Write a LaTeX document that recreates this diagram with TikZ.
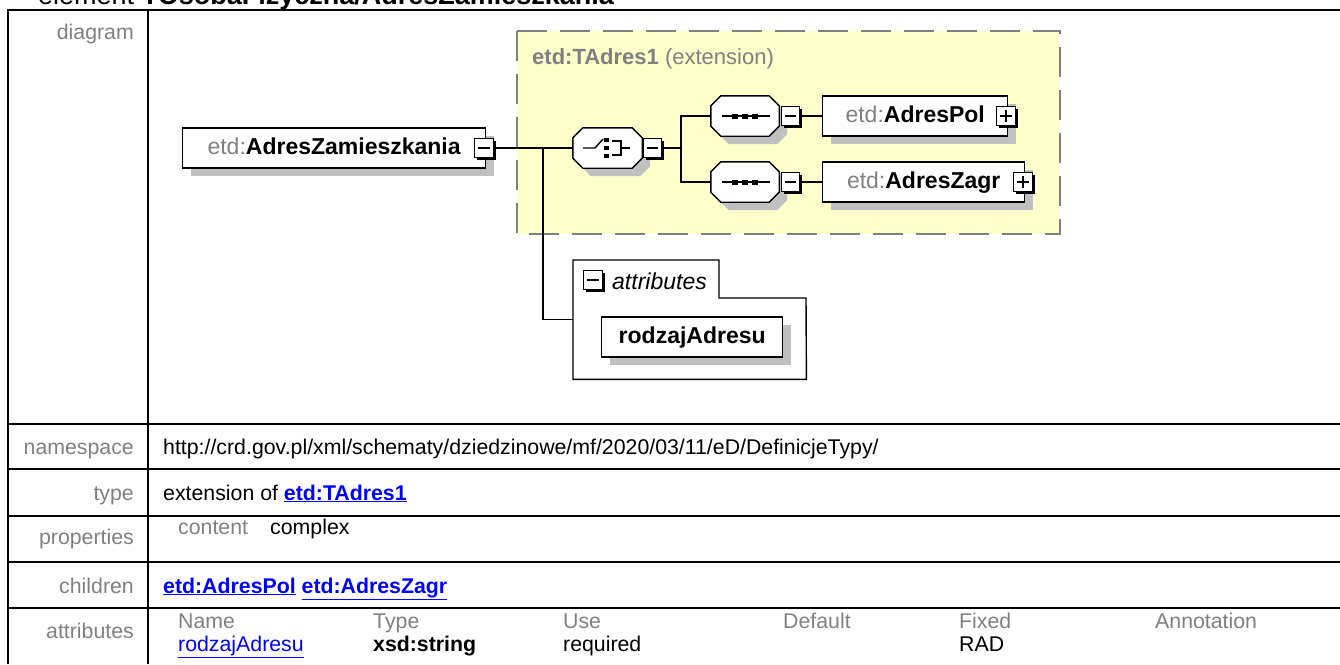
\documentclass[tikz,border=0pt]{standalone}
\usepackage{fontspec}
\setmainfont{Liberation Sans}
\usetikzlibrary{calc}
\definecolor{lblgray}{HTML}{808080}
\definecolor{yelfill}{HTML}{FFFFCC}
\definecolor{shgray}{HTML}{C0C0C0}
\definecolor{linkblue}{HTML}{0000FF}
\newcommand{\diafont}{\fontsize{23}{27}\selectfont}
\newcommand{\tabfont}{\fontsize{21.3}{25}\selectfont}
\newcommand{\pfx}[1]{\textcolor{lblgray}{#1}}
\newcommand{\lnk}[1]{\textcolor{linkblue}{\underline{#1}}}
\newcommand{\drawocto}[1]{%
  \fill[shgray, transform canvas={shift={(8pt,-8pt)}}] ([xshift=10pt]#1.north west) -- ([xshift=-10pt]#1.north east) -- ([yshift=-10pt]#1.north east) -- ([yshift=10pt]#1.south east) -- ([xshift=-10pt]#1.south east) -- ([xshift=10pt]#1.south west) -- ([yshift=10pt]#1.south west) -- ([yshift=-10pt]#1.north west) -- cycle;
  \draw[line width=1.4pt, fill=white] ([xshift=10pt]#1.north west) -- ([xshift=-10pt]#1.north east) -- ([yshift=-10pt]#1.north east) -- ([yshift=10pt]#1.south east) -- ([xshift=-10pt]#1.south east) -- ([xshift=10pt]#1.south west) -- ([yshift=10pt]#1.south west) -- ([yshift=-10pt]#1.north west) -- cycle;}
\begin{document}
\begin{tikzpicture}[x=1pt,y=-1pt,
  tline/.style={line width=2pt, black},
  conn/.style={line width=1.4pt, black},
  elem/.style={draw=black, line width=1.4pt, fill=white, minimum height=40pt, inner sep=0pt, text height=16.5pt, text depth=4.5pt, font=\diafont, preaction={fill=shgray, transform canvas={shift={(8pt,-8pt)}}}},
  ph/.style={inner sep=0pt, minimum height=40pt},
  pmbox/.style={draw=black, line width=1.4pt, fill=white, minimum size=18.5pt, inner sep=0pt, preaction={fill=black, transform canvas={shift={(2.5pt,-2.5pt)}}}},
  minusbox/.style={pmbox, path picture={\draw[line width=1.3pt] ([xshift=3.5pt]path picture bounding box.west) -- ([xshift=-3.5pt]path picture bounding box.east);}},
  plusbox/.style={pmbox, path picture={\draw[line width=1.3pt] ([xshift=3.5pt]path picture bounding box.west) -- ([xshift=-3.5pt]path picture bounding box.east) ([yshift=-3.5pt]path picture bounding box.north) -- ([yshift=3.5pt]path picture bounding box.south);}},
  tlabel/.style={font=\tabfont, text=lblgray, inner sep=0pt, anchor=base east},
  ttext/.style={font=\tabfont, inner sep=0pt, anchor=base west},
  tgray/.style={ttext, text=lblgray}
]
\useasboundingbox (0,0) rectangle (1340,664);
\clip (0,0) rectangle (1340,664);

% title (cut off at top)
\node[anchor=base west, inner sep=0pt, font=\fontsize{27}{30}\selectfont] (title) at (38,4.5) {element \textbf{TOsobaFizyczna/AdresZamieszkania}};

% table
\draw[tline] (8,10) -- (1340,10);
\draw[tline] (8,424) -- (1340,424);
\draw[tline] (8,469) -- (1340,469);
\draw[tline] (8,516) -- (1340,516);
\draw[tline] (8,562) -- (1340,562);
\draw[tline] (8,608) -- (1340,608);
\draw[tline] (8,9) -- (8,664);
\draw[tline] (148,9) -- (148,664);

\node[tlabel] (ldiag) at (134,39) {diagram};
\node[tlabel] (lns) at (134,454) {namespace};
\node[tlabel] (ltype) at (134,500) {type};
\node[tlabel] (lprop) at (134,544) {properties};
\node[tlabel] (lchild) at (134,593) {children};
\node[tlabel] (lattr) at (134,638) {attributes};

\node[ttext] (ns) at (163,454) {http://crd.gov.pl/xml/schematy/dziedzinowe/mf/2020/03/11/eD/DefinicjeTypy/};
\node[ttext] (typ) at (163,500) {extension of \lnk{\textbf{etd:TAdres1}}};
\node[tgray] (pcont) at (178,534) {content};
\node[ttext] (pcomplex) at (270,534) {complex};
\node[ttext] (chl) at (163,593) {\lnk{\textbf{etd:AdresPol}} \lnk{\textbf{etd:AdresZagr}}};
\node[tgray] (hname) at (178,628) {Name};
\node[tgray] (htype) at (373,628) {Type};
\node[tgray] (huse) at (563,628) {Use};
\node[tgray] (hdef) at (783,628) {Default};
\node[tgray] (hfix) at (959,628) {Fixed};
\node[tgray] (hann) at (1155,628) {Annotation};
\node[ttext] (vname) at (178,651) {\lnk{rodzajAdresu}};
\node[ttext] (vtype) at (373,651) {\textbf{xsd:string}};
\node[ttext] (vuse) at (563,651) {required};
\node[ttext] (vfix) at (959,651) {RAD};

% extension box
\draw[draw=lblgray, line width=1.3pt, dash pattern=on 30pt off 13pt, fill=yelfill] (517,31) rectangle (1060,234);
\node[anchor=base west, inner sep=0pt, font=\fontsize{22}{26}\selectfont, text=lblgray] (extlbl) at (532,64) {\textbf{etd:TAdres1} (extension)};

% main element
\node[elem, anchor=west, minimum width=303pt] (az) at (182,148) {\pfx{etd:}\textbf{AdresZamieszkania}};
\node[minusbox] (azm) at (484,148) {};

% choice
\node[ph, minimum width=69pt] (ch) at (607.5,148) {};
\drawocto{ch}
\draw[conn] (583,148) -- (595,148) -- (603,139);
\fill (604,138) rectangle (609,142);
\fill (604,146) rectangle (609,150);
\fill (604,154) rectangle (609,158);
\draw[conn] (612,141) -- (621,141) -- (621,155) -- (612,155);
\draw[conn] (621,148) -- (630,148);
\node[minusbox] (chm) at (652.5,148) {};

% sequences
\node[ph, minimum width=68pt] (sq1) at (745,116) {};
\drawocto{sq1}
\draw[conn] (722,116) -- (770,116);
\fill (732,113.5) rectangle (738,118.5);
\fill (742,113.5) rectangle (748,118.5);
\fill (752,113.5) rectangle (758,118.5);
\node[minusbox] (sq1m) at (790.5,116) {};

\node[ph, minimum width=68pt] (sq2) at (745,182) {};
\drawocto{sq2}
\draw[conn] (722,182) -- (770,182);
\fill (732,179.5) rectangle (738,184.5);
\fill (742,179.5) rectangle (748,184.5);
\fill (752,179.5) rectangle (758,184.5);
\node[minusbox] (sq2m) at (790.5,182) {};

% children elements
\node[elem, anchor=west, minimum width=185pt] (ap) at (822,116) {\pfx{etd:}\textbf{AdresPol}};
\node[plusbox] (apm) at (1006,116) {};
\node[elem, anchor=west, minimum width=202pt] (azg) at (822,182) {\pfx{etd:}\textbf{AdresZagr}};
\node[plusbox] (azgm) at (1023,182) {};

% attributes container
\node[inner sep=0pt, minimum width=233pt, minimum height=119pt, anchor=north west] (attrbox) at (573,260) {};
\draw[line width=1.4pt] (attrbox.north west) -- (719,260) -- (719,298) -- (806,298) -- (attrbox.south east) -- (attrbox.south west) -- cycle;
\node[minusbox] (attrm) at (593,280) {};
\node[anchor=west, inner sep=0pt, font=\diafont\itshape] (attrlbl) at (612,281) {attributes};
\node[elem, anchor=west, minimum width=181pt] (rod) at (601,337) {\textbf{rodzajAdresu}};

% connectors
\coordinate (j1) at (543,148);
\coordinate (j2) at (681,148);
\draw[conn] (azm.east) -- (ch.west);
\draw[conn] (j1) |- (attrbox.west);
\draw[conn] (chm.east) -- (j2);
\draw[conn] (sq1.west) -| (j2) |- (sq2.west);
\draw[conn] (sq1m.east) -- (ap.west);
\draw[conn] (sq2m.east) -- (azg.west);
\end{tikzpicture}
\end{document}
